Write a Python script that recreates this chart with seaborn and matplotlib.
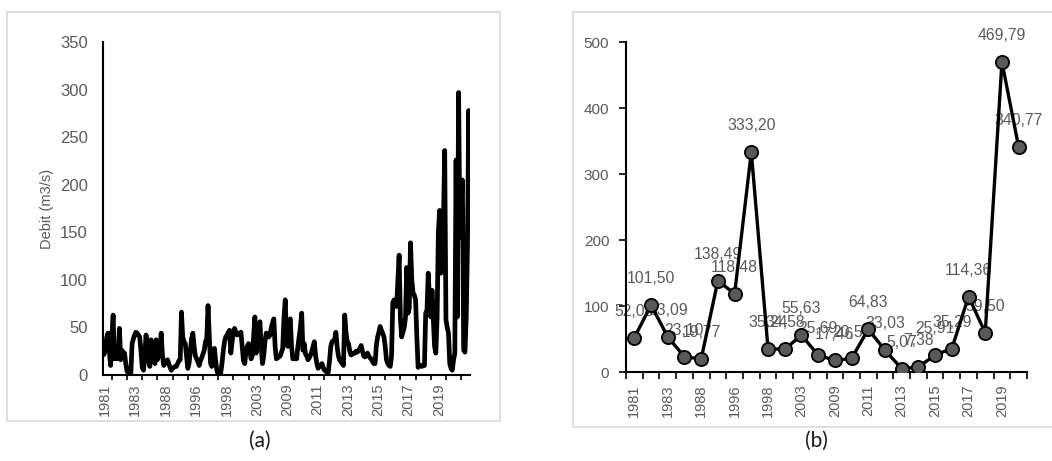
import numpy as np
import pandas as pd
import matplotlib
matplotlib.use("Agg")
import matplotlib.pyplot as plt
from matplotlib.patches import Rectangle
import seaborn as sns

# Monthly discharge (m3/s), one row per year of record
monthly_flow = [
    21, 22, 30, 40, 44, 25, 10, 40, 63, 17, 30, 17,
    20, 49, 16, 26, 24, 23, 12, 4, 2, 1, 2, 33,
    38, 42, 45, 44, 42, 40, 25, 8, 5, 20, 42, 30,
    15, 9, 37, 30, 20, 12, 37, 16, 22, 30, 44, 20,
    10, 12, 14, 16, 12, 8, 5, 7, 8, 9, 9, 12,
    15, 16, 66, 40, 35, 33, 20, 7, 12, 25, 38, 44,
    30, 20, 17, 14, 10, 15, 18, 22, 26, 35, 38, 73,
    40, 12, 9, 20, 28, 15, 5, 0, 1, 2, 12, 25,
    35, 40, 42, 45, 47, 23, 35, 45, 49, 45, 42, 43,
    44, 45, 30, 15, 12, 25, 30, 33, 25, 17, 20, 40,
    61, 23, 35, 50, 56, 30, 12, 20, 35, 44, 43, 40,
    42, 50, 55, 59, 30, 17, 18, 19, 20, 24, 28, 60,
    79, 40, 30, 55, 59, 30, 17, 18, 17, 17, 30, 40,
    50, 65, 26, 33, 22, 20, 16, 18, 21, 25, 30, 35,
    20, 12, 7, 9, 10, 12, 8, 5, 4, 3, 3, 15,
    30, 35, 36, 37, 45, 30, 20, 16, 14, 12, 10, 63,
    45, 35, 33, 25, 21, 22, 23, 23, 25, 24, 26, 28,
    31, 25, 20, 19, 21, 23, 20, 18, 17, 14, 12, 12,
    31, 40, 45, 51, 47, 44, 40, 30, 16, 12, 10, 9,
    20, 76, 79, 76, 72, 100, 126, 60, 40, 45, 50, 60,
    113, 65, 70, 139, 100, 86, 84, 79, 40, 8, 10, 10,
    9, 10, 10, 65, 68, 107, 80, 61, 89, 60, 30, 23,
    60, 150, 173, 107, 150, 160, 236, 58, 50, 44, 12, 7,
    5, 16, 23, 226, 61, 297, 145, 180, 205, 26, 24, 60,
    135, 278, 177,
]
flow_axis_labels = ["1981", "1983", "1988", "1996", "1998", "2003",
                    "2009", "2011", "2013", "2015", "2017", "2019"]

# Annual maximum discharge (m3/s)
max_years = ["1981", "1982", "1983", "1984", "1988", "1989", "1996", "1997",
             "1998", "1999", "2003", "2004", "2009", "2010", "2011", "2012",
             "2013", "2014", "2015", "2016", "2017", "2018", "2019", "2020"]
annual_max = [52.08, 101.50, 53.09, 23.10, 19.77, 138.49, 118.48, 333.20,
              35.24, 34.58, 55.63, 25.69, 17.46, 20.56, 64.83, 33.03,
              5.07, 7.38, 25.91, 35.29, 114.36, 59.50, 469.79, 340.77]

sns.set_style("white")
narrow = ["Liberation Sans Narrow", "Liberation Sans", "DejaVu Sans"]
plt.rcParams["font.family"] = narrow
GREY = "#595959"

fig = plt.figure(figsize=(10.52, 4.61), dpi=100)
W, H = 1052, 461

def fig_rect(x0, y0, x1, y1):
    return [x0 / W, 1 - y1 / H, (x1 - x0) / W, (y1 - y0) / H]

# panel frames
for (x0, y0, x1, y1) in [(7, 12, 500, 421), (573, 12, 1060, 427)]:
    fig.patches.append(Rectangle((x0 / W, 1 - y1 / H), (x1 - x0) / W, (y1 - y0) / H,
                                 transform=fig.transFigure, fill=False,
                                 edgecolor="#d9d9d9", linewidth=1.2))

# ---- (a) monthly discharge
ax1 = fig.add_axes(fig_rect(103, 42, 470, 375))
df_flow = pd.DataFrame({"month": np.arange(len(monthly_flow)), "flow": monthly_flow})
sns.lineplot(data=df_flow, x="month", y="flow", ax=ax1, color="black",
             linewidth=3.4, solid_joinstyle="round", solid_capstyle="round")
ax1.set_xlim(0, len(monthly_flow) - 1)
ax1.set_ylim(0, 350)
ax1.set_yticks(np.arange(0, 351, 50))
ax1.set_xticks([7 + 12 * k for k in range(24)], minor=True)
ax1.set_xticks([1.5 + 24 * k for k in range(len(flow_axis_labels))])
ax1.set_xticklabels(flow_axis_labels, rotation=90)
ax1.tick_params(axis="x", which="major", length=0, pad=6, labelsize=10.5, labelcolor=GREY)
ax1.tick_params(axis="x", which="minor", length=3.5, width=1.2, color="black", direction="out", bottom=True)
ax1.tick_params(axis="y", length=0, pad=11, labelsize=12, labelcolor=GREY)
ax1.set_ylabel("Debit (m3/s)", fontsize=10.5, color=GREY, labelpad=4)
ax1.set_xlabel("")
for side in ["top", "right"]:
    ax1.spines[side].set_visible(False)
for side in ["left", "bottom"]:
    ax1.spines[side].set_color("black")
    ax1.spines[side].set_linewidth(1.5)

# ---- (b) annual maxima
ax2 = fig.add_axes(fig_rect(626, 42, 1027, 372))
df_max = pd.DataFrame({"pos": np.arange(len(annual_max)), "qmax": annual_max})
sns.lineplot(data=df_max, x="pos", y="qmax", ax=ax2, color="black", linewidth=2.4,
             marker="o", markersize=9.5, markerfacecolor="#595959",
             markeredgecolor="black", markeredgewidth=1.3, zorder=3)
for i, v in enumerate(annual_max):
    ax2.annotate(f"{v:.2f}".replace(".", ","), (i, v), xytext=(0, 19),
                 textcoords="offset points", ha="center", va="center",
                 fontsize=11.3, color=GREY, zorder=2)
ax2.set_xlim(-0.5, len(annual_max) - 0.5)
ax2.set_ylim(0, 500)
ax2.set_yticks(np.arange(0, 501, 100))
ax2.set_xticks([k - 0.5 for k in range(len(annual_max) + 1)], minor=True)
ax2.set_xticks(np.arange(0, len(annual_max), 2))
ax2.set_xticklabels(max_years[::2], rotation=90)
ax2.tick_params(axis="x", which="major", length=0, pad=9, labelsize=10.5, labelcolor=GREY)
ax2.tick_params(axis="x", which="minor", length=5, width=1.2, color="black", direction="out", bottom=True)
ax2.tick_params(axis="y", length=5, width=1.2, color="black", direction="out", left=True,
                pad=7, labelsize=11, labelcolor=GREY)
ax2.set_xlabel("")
ax2.set_ylabel("")
for side in ["top", "right"]:
    ax2.spines[side].set_visible(False)
for side in ["left", "bottom"]:
    ax2.spines[side].set_color("black")
    ax2.spines[side].set_linewidth(1.5)

# panel captions
cap_font = ["Lato", "DejaVu Sans"]
fig.text(260 / W, 1 - 441 / H, "(a)", ha="center", va="center", fontsize=15,
         family=cap_font, color="#1a1a1a")
fig.text(816 / W, 1 - 441 / H, "(b)", ha="center", va="center", fontsize=15,
         family=cap_font, color="#1a1a1a")

fig.savefig("out.png", dpi=100)
